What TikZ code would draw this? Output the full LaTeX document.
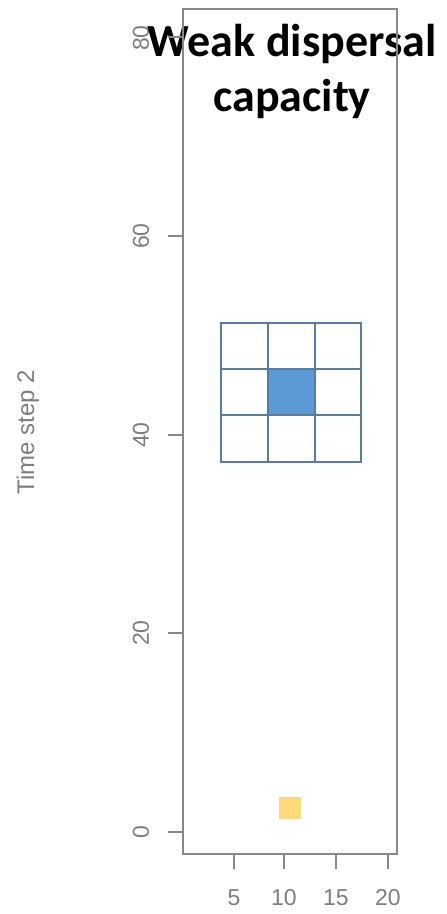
\documentclass[tikz,border=0pt]{standalone}
\usepackage{fontspec}
\setmainfont{Liberation Sans}
\newfontfamily\titlefont{Carlito}
\definecolor{axisgray}{RGB}{136,136,136}
\definecolor{labgray}{RGB}{125,125,130}
\definecolor{gridblue}{RGB}{88,124,164}
\definecolor{cellblue}{RGB}{91,155,213}
\definecolor{cellyellow}{RGB}{255,217,122}
\tikzset{
  axisline/.style={draw=axisgray, line width=1.8pt},
  ticklab/.style={text=labgray, font=\fontsize{23}{25}\selectfont, inner sep=0pt},
  titletext/.style={font=\titlefont\bfseries\fontsize{46}{55}\selectfont, inner sep=0pt, anchor=base},
  gridcell/.style={draw=gridblue, line width=2pt},
}
\begin{document}
\begin{tikzpicture}[x=1pt,y=-1pt]
\useasboundingbox (0,0) rectangle (447,914);
% y tick labels
\node[ticklab, rotate=90] (l0) at (141,832) {0};
\node[ticklab, rotate=90] (l20) at (141,633) {20};
\node[ticklab, rotate=90] (l40) at (141,435) {40};
\node[ticklab, rotate=90] (l60) at (141,236) {60};
\node[ticklab, rotate=90] (l80) at (141,38) {80};
% title
\node[titletext] (title1) at (292,56) {Weak dispersal};
\node[titletext] (title2) at (292,111) {capacity};
% plot box
\draw[axisline] (183,9) rectangle (397,854);
% y ticks
\foreach \yy in {832,633,435,236,37} {\draw[axisline] (168,\yy) -- (183,\yy);}
% x ticks
\foreach \xx/\lab in {234/5,284/10,336/15,388/20} {
  \draw[axisline] (\xx,854) -- (\xx,869);
  \node[ticklab] (x\lab) at (\xx,898) {\lab};
}
% axis title
\node[ticklab, rotate=90, font=\fontsize{24}{26}\selectfont] (ylab) at (28,432) {Time step 2};
% grid
\fill[cellblue] (268,369) rectangle (315,415);
\foreach \xa/\xb in {221/268,268/315,315/361} {
  \foreach \ya/\yb in {323/369,369/415,415/462} {
    \draw[gridcell] (\xa,\ya) rectangle (\xb,\yb);
  }
}
% yellow cell
\fill[cellyellow] (279,797) rectangle (301,819);
\end{tikzpicture}
\end{document}
